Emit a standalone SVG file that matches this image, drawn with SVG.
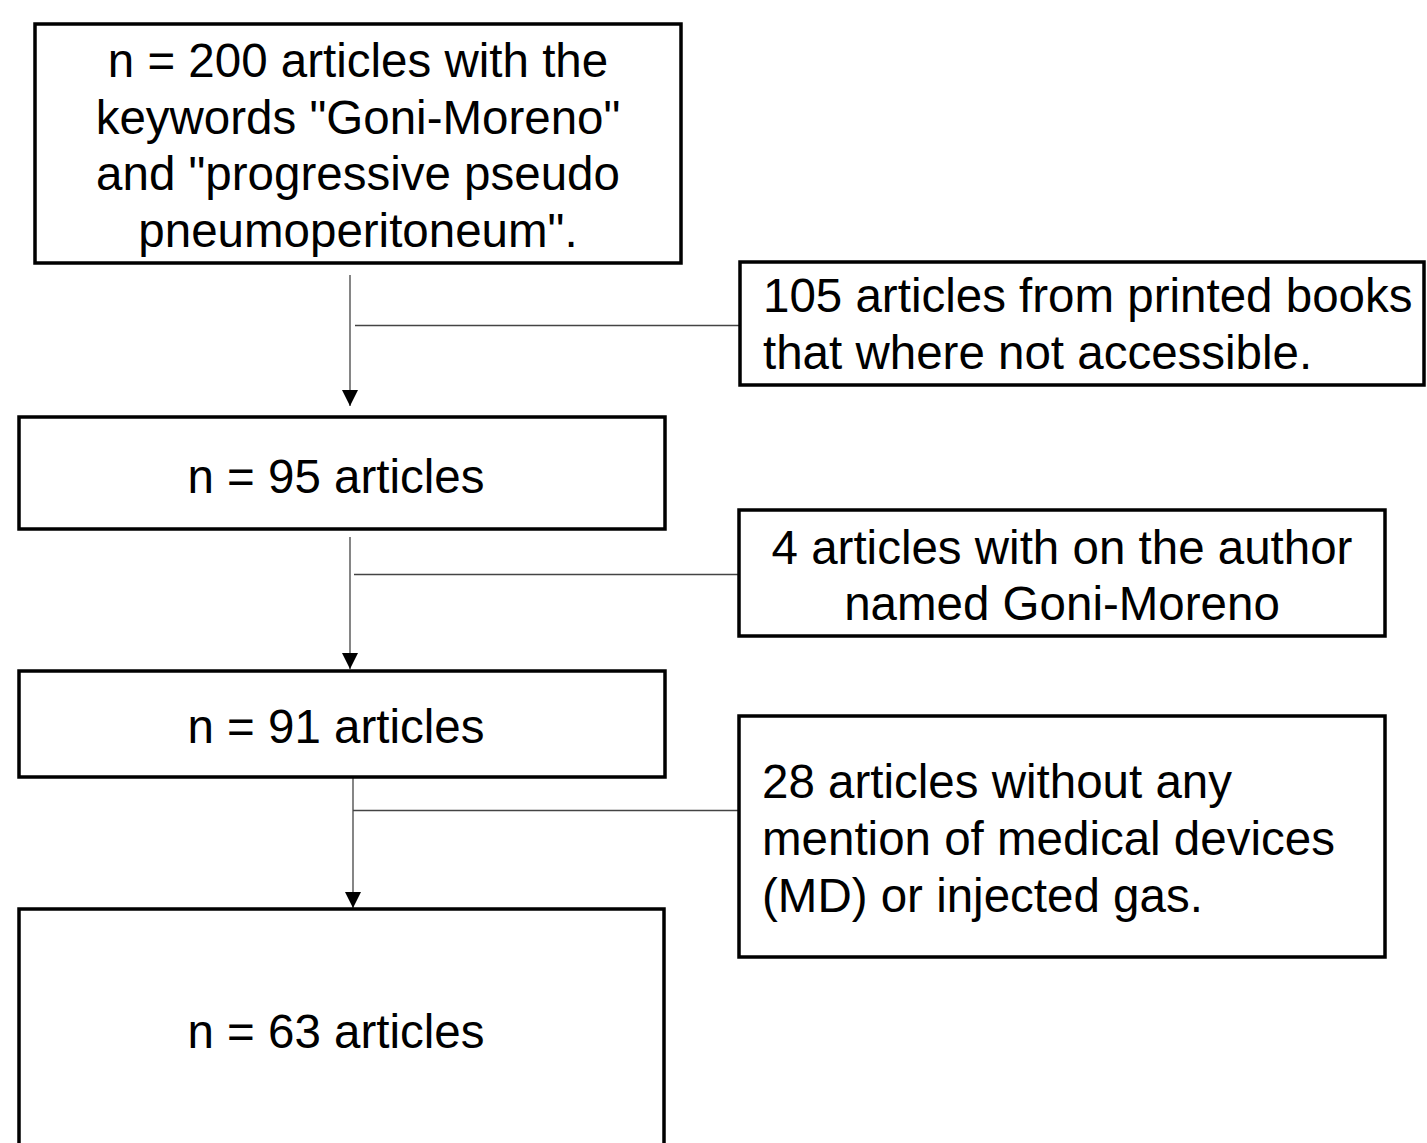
<svg xmlns="http://www.w3.org/2000/svg" width="1427" height="1143" viewBox="0 0 1427 1143">
  <style>
    .box { fill: #ffffff; stroke: #000000; stroke-width: 3.5; }
    .lbl { font-family: "Liberation Sans", Arial, sans-serif; font-size: 47.5px; fill: #000000; }
    .mid { text-anchor: middle; }
    .conn { stroke: #444444; stroke-width: 1.3; fill: none; }
  </style>
  <defs>
    <marker id="arrow" markerUnits="userSpaceOnUse" markerWidth="16" markerHeight="16" viewBox="0 0 16 16" refX="16" refY="8" orient="auto">
      <path d="M0,0 L16,8 L0,16 z" fill="#000000"/>
    </marker>
  </defs>
  <rect width="1427" height="1143" fill="#ffffff"/>

  <g id="connectors">
    <line class="conn" x1="350" y1="275" x2="350" y2="406" marker-end="url(#arrow)"/>
    <line class="conn" x1="355" y1="325.5" x2="740" y2="325.5"/>
    <line class="conn" x1="350" y1="537" x2="350" y2="669" marker-end="url(#arrow)"/>
    <line class="conn" x1="354" y1="574.5" x2="740" y2="574.5"/>
    <line class="conn" x1="353" y1="777" x2="353" y2="908" marker-end="url(#arrow)"/>
    <line class="conn" x1="353" y1="810.5" x2="740" y2="810.5"/>
  </g>

  <g id="node-200">
    <rect class="box" x="35" y="24" width="646" height="239"/>
    <text class="lbl mid" x="358" y="77">n = 200 articles with the</text>
    <text class="lbl mid" x="358" y="133.5">keywords "Goni-Moreno"</text>
    <text class="lbl mid" x="358" y="190">and "progressive pseudo</text>
    <text class="lbl mid" x="358" y="246.5">pneumoperitoneum".</text>
  </g>

  <g id="node-105">
    <rect class="box" x="740" y="262" width="684" height="123"/>
    <text class="lbl" x="763" y="312">105 articles from printed books</text>
    <text class="lbl" x="763" y="368.5">that where not accessible.</text>
  </g>

  <g id="node-95">
    <rect class="box" x="19" y="417" width="646" height="112"/>
    <text class="lbl mid" x="336" y="493">n = 95 articles</text>
  </g>

  <g id="node-4">
    <rect class="box" x="739" y="510" width="646" height="126"/>
    <text class="lbl mid" x="1062" y="564">4 articles with on the author</text>
    <text class="lbl mid" x="1062" y="620">named Goni-Moreno</text>
  </g>

  <g id="node-91">
    <rect class="box" x="19" y="671" width="646" height="106"/>
    <text class="lbl mid" x="336" y="742.5">n = 91 articles</text>
  </g>

  <g id="node-28">
    <rect class="box" x="739" y="716" width="646" height="241"/>
    <text class="lbl" x="762" y="798">28 articles without any</text>
    <text class="lbl" x="762" y="855">mention of medical devices</text>
    <text class="lbl" x="762" y="912">(MD) or injected gas.</text>
  </g>

  <g id="node-63">
    <rect class="box" x="19" y="909" width="645" height="260"/>
    <text class="lbl mid" x="336" y="1048">n = 63 articles</text>
  </g>
</svg>
